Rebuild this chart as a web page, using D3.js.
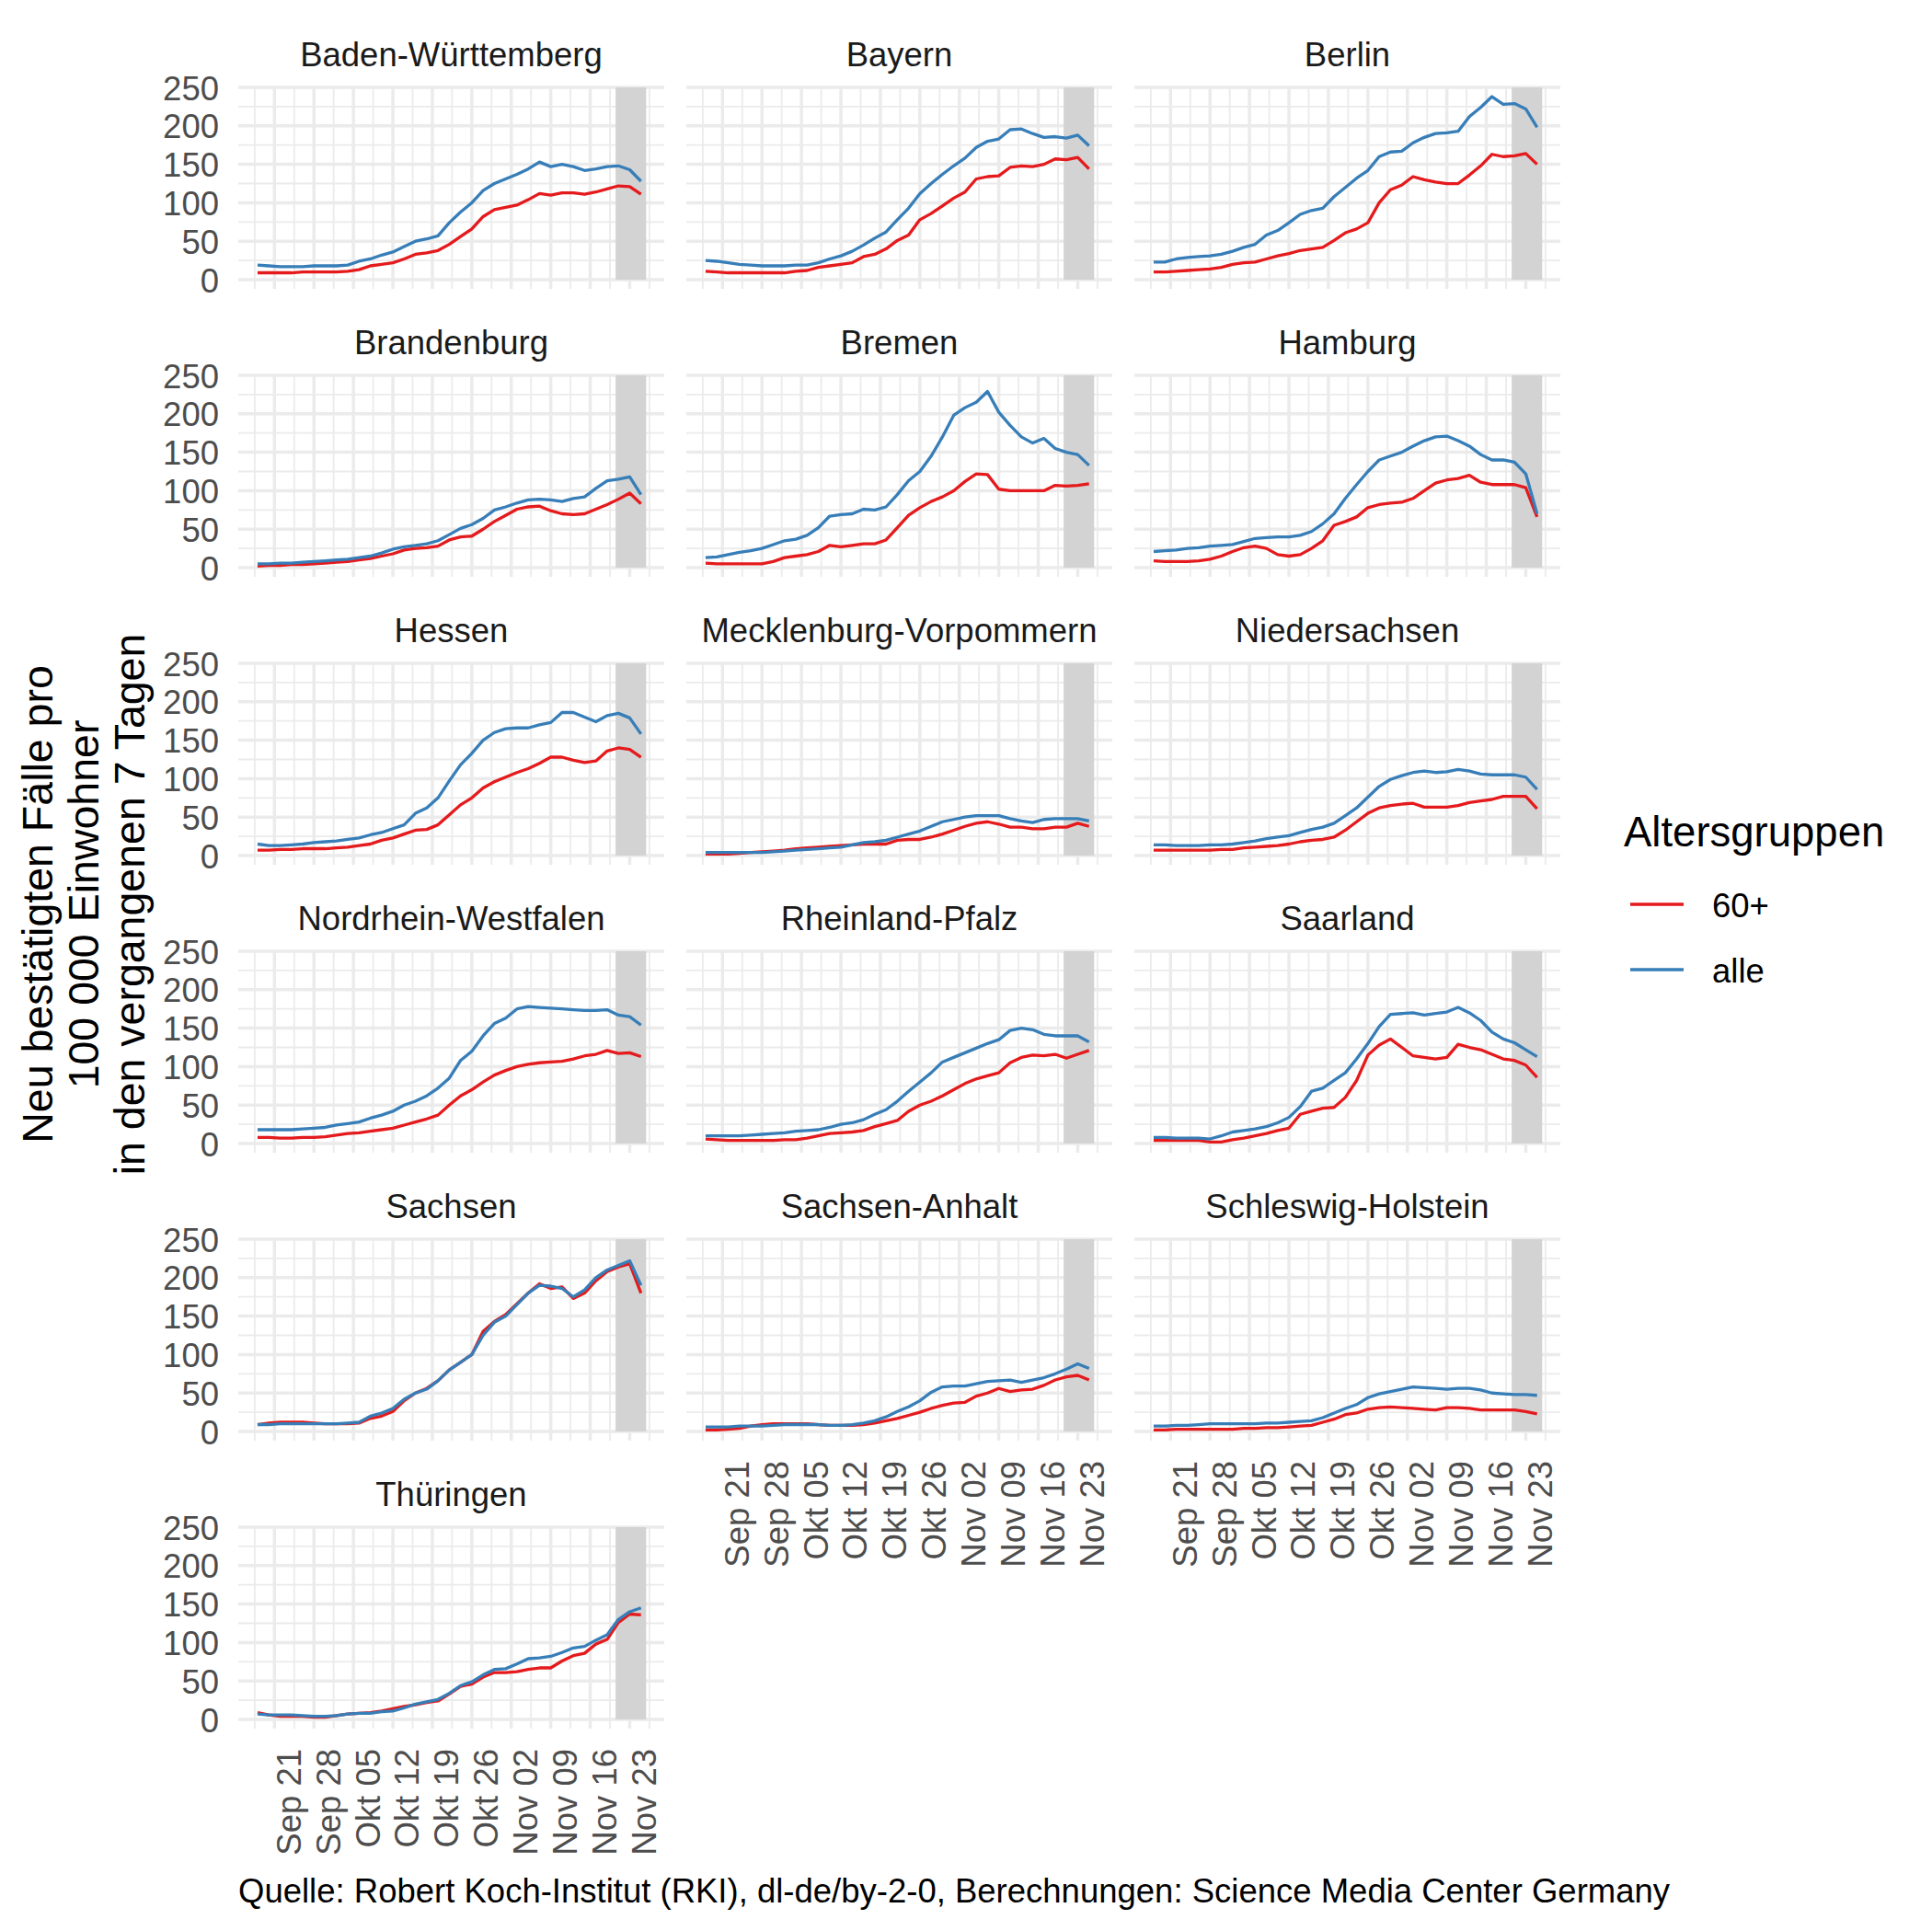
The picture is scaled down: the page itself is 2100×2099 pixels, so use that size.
<!DOCTYPE html>
<html>
<head>
<meta charset="utf-8">
<script src="https://cdn.jsdelivr.net/npm/d3@7"></script>
<style>
    body { margin: 0; background: #fff; }
    svg text { font-family: "Liberation Sans", Arial, sans-serif; }
</style>
</head>
<body>
<svg id="chart" width="2100" height="2099"></svg>
<script>
// 7-day incidence per 100 000, read every second day from Sep 18 to Nov 25 2020
var startDay = Date.UTC(2020, 8, 18);
var stepDays = 2;

var bwAlle = [19,18,17,17,17,18,18,18,19,24,27,32,36,43,50,53,57,74,88,100,116,125,131,137,144,153,147,150,147,142,144,147,148,143,128];
var bw60 = [9,9,9,9,10,10,10,10,11,13,18,20,22,27,33,35,38,46,56,66,82,91,94,97,104,112,110,113,113,111,114,118,122,121,111];
var byAlle = [25,24,22,20,19,18,18,18,19,19,22,27,31,37,45,54,62,78,93,112,125,137,148,158,172,180,183,195,196,190,185,186,184,188,174];
var by60 = [11,10,9,9,9,9,9,9,11,12,16,18,20,22,30,33,40,51,58,78,86,96,106,114,131,134,135,146,148,147,150,157,156,159,144];
var beAlle = [23,23,27,29,30,31,33,37,42,46,58,64,74,85,90,93,108,120,132,142,160,166,167,178,185,190,191,193,212,224,238,228,229,222,198];
var be60 = [10,10,11,12,13,14,16,20,22,23,27,31,34,38,40,42,51,61,66,74,100,117,123,134,130,127,125,125,136,148,163,160,161,164,150];
var bbAlle = [5,5,6,6,7,8,9,10,11,13,15,19,24,27,29,31,35,43,51,56,64,75,79,84,88,89,88,86,90,92,103,113,115,118,95];
var bb60 = [2,3,3,4,4,5,6,7,8,10,12,15,18,23,25,26,28,36,40,41,50,60,68,76,79,80,74,70,69,70,76,82,89,97,83];
var hbAlle = [13,14,17,20,22,25,30,35,37,42,52,67,69,70,76,75,79,95,113,125,145,170,198,208,215,229,202,185,170,162,168,155,150,147,133];
var hb60 = [6,5,5,5,5,5,8,13,15,17,21,29,27,29,31,31,36,52,68,78,86,92,100,112,122,121,102,100,100,100,100,107,106,107,109];
var hhAlle = [21,22,23,25,26,28,29,30,34,38,39,40,40,42,47,57,70,90,108,125,140,145,150,158,165,170,171,165,158,147,140,140,137,122,70];
var hh60 = [9,8,8,8,9,11,15,21,26,28,25,17,15,17,25,35,55,60,66,78,82,84,85,90,100,110,114,116,120,111,108,108,108,104,66];
var heAlle = [15,13,13,14,15,17,18,19,21,23,27,30,35,40,55,62,75,97,118,133,150,160,165,166,166,170,173,186,186,180,174,182,185,179,158];
var he60 = [7,7,8,8,9,9,9,10,11,13,15,20,23,28,33,34,40,53,66,75,88,96,102,108,113,120,128,128,124,121,123,136,140,138,128];
var mvAlle = [4,4,4,4,4,4,5,6,7,8,9,10,11,14,17,18,20,24,28,32,38,44,47,50,52,52,52,48,45,43,47,48,48,48,45];
var mv60 = [2,2,2,3,4,5,6,7,9,10,11,12,13,14,15,15,15,20,21,21,24,28,33,38,42,44,41,37,37,35,35,37,37,42,38];
var niAlle = [14,14,13,13,13,14,14,15,17,19,22,24,26,30,34,37,42,52,62,76,90,99,104,108,110,108,109,112,110,106,105,105,105,102,86];
var ni60 = [7,7,7,7,7,7,8,8,10,11,12,13,15,18,20,21,24,33,44,55,62,65,67,68,63,63,63,65,69,71,73,77,77,77,61];
var nwAlle = [18,18,18,18,19,20,21,24,26,28,33,37,42,50,55,62,72,85,108,120,140,156,163,175,178,177,176,175,174,173,173,174,167,165,154];
var nw60 = [8,8,7,7,8,8,9,11,13,14,16,18,20,24,28,32,37,50,62,70,80,89,95,100,103,105,106,107,110,114,116,121,117,118,113];
var rpAlle = [10,10,10,10,11,12,13,14,16,17,18,21,25,27,31,38,44,55,68,80,92,106,112,118,124,130,135,147,150,148,142,140,140,140,132];
var rp60 = [6,5,4,4,4,4,4,5,5,7,10,13,14,15,17,22,26,30,42,50,55,62,70,78,84,88,92,105,112,115,114,116,111,116,121];
var slAlle = [8,8,7,7,7,6,10,15,17,19,22,27,34,48,68,72,82,92,110,130,152,168,169,170,167,169,171,177,170,160,145,136,131,122,113];
var sl60 = [4,4,4,4,4,2,2,5,7,10,13,17,20,38,42,46,47,60,82,115,128,136,125,114,112,110,112,129,125,122,116,110,108,102,86];
var snAlle = [9,9,10,10,10,10,10,10,11,12,20,24,30,42,50,55,66,80,90,100,125,142,150,165,180,190,189,186,175,184,200,210,216,222,190];
var sn60 = [9,11,12,12,12,11,10,10,10,11,17,20,26,40,50,56,66,80,90,100,130,143,152,166,180,192,186,188,173,180,196,208,214,218,180];
var stAlle = [6,6,6,7,7,7,8,9,9,9,9,8,8,9,11,14,19,26,32,40,51,58,59,59,62,65,66,67,64,67,70,75,81,88,82];
var st60 = [2,2,3,4,7,9,10,10,10,10,9,8,8,8,9,11,14,17,21,25,30,34,37,38,46,50,56,52,54,55,60,67,71,73,67];
var shAlle = [7,7,8,8,9,10,10,10,10,10,11,11,12,13,14,18,24,30,35,44,49,52,55,58,57,56,55,56,56,54,50,49,48,48,47];
var sh60 = [2,2,3,3,3,3,3,3,4,4,5,5,6,7,8,12,16,22,24,29,31,32,31,30,29,28,31,31,30,28,28,28,28,26,23];
var thAlle = [7,6,6,6,5,4,4,5,7,8,8,10,11,15,20,23,26,34,44,49,58,65,66,72,79,80,82,87,93,95,103,110,130,140,145];
var th60 = [9,6,4,4,4,3,3,5,7,8,9,11,14,17,19,22,24,33,43,46,55,61,61,62,65,67,67,76,83,86,98,104,126,137,136];

var stateNames = ['Baden-Württemberg', 'Bayern', 'Berlin', 'Brandenburg', 'Bremen', 'Hamburg',
    'Hessen', 'Mecklenburg-Vorpommern', 'Niedersachsen', 'Nordrhein-Westfalen', 'Rheinland-Pfalz',
    'Saarland', 'Sachsen', 'Sachsen-Anhalt', 'Schleswig-Holstein', 'Thüringen'];
var seriesAlle = [bwAlle, byAlle, beAlle, bbAlle, hbAlle, hhAlle, heAlle, mvAlle, niAlle, nwAlle, rpAlle, slAlle, snAlle, stAlle, shAlle, thAlle];
var series60 = [bw60, by60, be60, bb60, hb60, hh60, he60, mv60, ni60, nw60, rp60, sl60, sn60, st60, sh60, th60];

var groups = ['60+', 'alle'];
var groupColors = ['#E41A1C', '#377EB8'];

var yTicks = [0, 50, 100, 150, 200, 250];
var yMinor = [25, 75, 125, 175, 225];

// shaded period (incomplete reporting)
var shadeStart = Date.UTC(2020, 10, 20, 12);
var shadeEnd = Date.UTC(2020, 10, 25, 22);

var monthsDe = ['Jan', 'Feb', 'Mär', 'Apr', 'Mai', 'Jun', 'Jul', 'Aug', 'Sep', 'Okt', 'Nov', 'Dez'];

var dayMs = 864e5;
var dates = seriesAlle[0].map(function(v, i) { return new Date(startDay + i * stepDays * dayMs); });

var svg = d3.select('#chart');

var small = 36.5, big = 45.5;
var panelW = 463, panelH = 219;
var colX = [259, 746, 1233];
var rowY0 = 95, rowStep = 313;

var x = d3.scaleUtc()
    .domain([new Date(Date.UTC(2020, 8, 14, 14)), new Date(Date.UTC(2020, 10, 29, 3))])
    .range([0, panelW]);
var y = d3.scaleLinear().domain([-11.9, 250]).range([panelH, 0]);

var xTicks = d3.utcMonday.range(new Date(Date.UTC(2020, 8, 20)), new Date(Date.UTC(2020, 10, 25)));
var xMinor = [new Date(xTicks[0].getTime() - 3.5 * dayMs)].concat(xTicks.map(function(t) {
    return new Date(t.getTime() + 3.5 * dayMs);
}));

function fmtDate(d) {
    return monthsDe[d.getUTCMonth()] + ' ' + d3.utcFormat('%d')(d);
}

var line = d3.line()
    .x(function(d) { return x(d[0]); })
    .y(function(d) { return y(d[1]); });

stateNames.forEach(function(name, i) {
    var col = i % 3, row = Math.floor(i / 3);
    var g = svg.append('g').attr('transform', 'translate(' + colX[col] + ',' + (rowY0 + row * rowStep) + ')');

    // grid
    g.selectAll('line.ymin').data(yMinor).enter().append('line')
        .attr('x1', 0).attr('x2', panelW).attr('y1', y).attr('y2', y)
        .attr('stroke', '#EBEBEB').attr('stroke-width', 1.8);
    g.selectAll('line.xmin').data(xMinor).enter().append('line')
        .attr('x1', x).attr('x2', x).attr('y1', 0).attr('y2', panelH)
        .attr('stroke', '#EBEBEB').attr('stroke-width', 1.8);
    g.selectAll('line.ymaj').data(yTicks).enter().append('line')
        .attr('x1', 0).attr('x2', panelW).attr('y1', y).attr('y2', y)
        .attr('stroke', '#EBEBEB').attr('stroke-width', 3.5);
    g.selectAll('line.xmaj').data(xTicks).enter().append('line')
        .attr('x1', x).attr('x2', x).attr('y1', 0).attr('y2', panelH)
        .attr('stroke', '#EBEBEB').attr('stroke-width', 3.5);

    g.append('rect')
        .attr('x', x(new Date(shadeStart)))
        .attr('width', x(new Date(shadeEnd)) - x(new Date(shadeStart)))
        .attr('y', y(250)).attr('height', y(0) - y(250))
        .attr('fill', '#D3D3D3');

    [series60[i], seriesAlle[i]].forEach(function(vals, k) {
        g.append('path')
            .datum(vals.map(function(v, j) { return [dates[j], v]; }))
            .attr('d', line)
            .attr('fill', 'none')
            .attr('stroke', groupColors[k])
            .attr('stroke-width', 3.3)
            .attr('stroke-linejoin', 'round');
    });

    g.append('text')
        .attr('x', panelW / 2).attr('y', -23)
        .attr('text-anchor', 'middle')
        .attr('font-size', small).attr('fill', '#1A1A1A')
        .text(name);

    if (col === 0) {
        g.selectAll('text.yl').data(yTicks).enter().append('text')
            .attr('x', -21).attr('y', function(d) { return y(d) + 13.5; })
            .attr('text-anchor', 'end')
            .attr('font-size', small).attr('fill', '#4D4D4D')
            .text(function(d) { return d; });
    }

    var bottom = (i === 15) || (i >= 13 && i <= 14);
    if (bottom) {
        g.selectAll('text.xl').data(xTicks).enter().append('text')
            .attr('transform', function(d) { return 'translate(' + x(d) + ',' + (panelH + 22) + ') rotate(-90)'; })
            .attr('dy', 28.4)
            .attr('text-anchor', 'end')
            .attr('font-size', small).attr('fill', '#4D4D4D')
            .text(fmtDate);
    }
});

// y axis title
var yTitle = svg.append('text')
    .attr('transform', 'translate(0,983) rotate(-90)')
    .attr('text-anchor', 'middle')
    .attr('font-size', 46.5).attr('fill', '#000');
['Neu bestätigten Fälle pro', '100 000 Einwohner', 'in den vergangenen 7 Tagen'].forEach(function(t, k) {
    yTitle.append('tspan').attr('x', 0).attr('y', 57 + k * 50).text(t);
});

// legend
var legend = svg.append('g');
legend.append('text')
    .attr('x', 1765).attr('y', 920)
    .attr('font-size', big).attr('fill', '#000')
    .text('Altersgruppen');
groups.forEach(function(gname, k) {
    var ly = 983 + k * 71;
    legend.append('line')
        .attr('x1', 1772).attr('x2', 1830).attr('y1', ly).attr('y2', ly)
        .attr('stroke', groupColors[k]).attr('stroke-width', 3.3);
    legend.append('text')
        .attr('x', 1861).attr('y', ly + 14)
        .attr('font-size', small).attr('fill', '#000')
        .text(gname);
});

svg.append('text')
    .attr('x', 259).attr('y', 2068)
    .attr('font-size', small).attr('fill', '#000')
    .text('Quelle: Robert Koch-Institut (RKI), dl-de/by-2-0, Berechnungen: Science Media Center Germany');
</script>
</body>
</html>
